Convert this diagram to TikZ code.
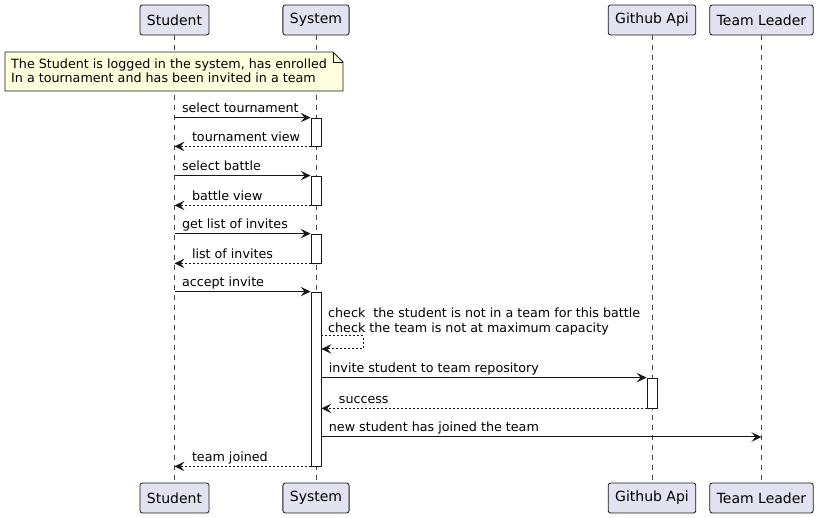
\documentclass[tikz,border=0pt]{standalone}
\usepackage{fontspec}
\setmainfont{DejaVu Sans}
\usetikzlibrary{arrows.meta}

\definecolor{partfill}{HTML}{E2E2F0}
\definecolor{notefill}{HTML}{FEFFDD}
\definecolor{umlline}{HTML}{181818}

\tikzset{
  part/.style={draw=umlline, fill=partfill, rounded corners=2.5pt, line width=0.8pt,
    minimum height=30pt, inner xsep=7pt, font=\fontsize{14}{16}\selectfont},
  life/.style={draw=umlline!80, line width=0.7pt, dash pattern=on 5pt off 5pt},
  actbar/.style={draw=umlline, fill=white, line width=0.8pt, minimum width=10pt, inner sep=0pt},
  msg/.style={draw=umlline, line width=1pt, -{Stealth[length=10pt,width=9.5pt,inset=4pt]}},
  ret/.style={msg, dash pattern=on 2pt off 2pt},
  lbl/.style={anchor=base west, inner sep=0pt, font=\fontsize{12.7}{14.5}\selectfont},
}

\begin{document}
\begin{tikzpicture}[x=1pt, y=-1pt]
			\useasboundingbox (0,0) rectangle (820,518);
			% participants
			\node[part] (st) at (174.5,20) {Student};
			\node[part] (sy) at (316,20) {System};
			\node[part] (gh) at (652,20) {Github Api};
			\node[part] (tl) at (761.5,20) {Team Leader};
			\node[part] (st2) at (174.5,498) {Student};
			\node[part] (sy2) at (316,498) {System};
			\node[part] (gh2) at (652,498) {Github Api};
			\node[part] (tl2) at (761.5,498) {Team Leader};
			\draw[life] (st.south) -- (st2.north);
			\draw[life] (sy.south) -- (sy2.north);
			\draw[life] (gh.south) -- (gh2.north);
			\draw[life] (tl.south) -- (tl2.north);
			% note
			\draw[umlline, fill=notefill, line width=0.8pt] (5,52) -- (333,52) -- (343,62) -- (343,91) -- (5,91) -- cycle;
			\draw[umlline, line width=0.8pt] (333,52) -- (333,62) -- (343,62);
			\node[lbl, anchor=north west, align=left] (note) at (11,58.5) {The Student is logged in the system, has enrolled\\In a tournament and has been invited in a team};
			% activations
			\node[actbar, minimum height=28pt] (a1) at (316,132) {};
			\node[actbar, minimum height=29pt] (a2) at (316,190.5) {};
			\node[actbar, minimum height=29pt] (a3) at (316,248.5) {};
			\node[actbar, minimum height=174pt] (a4) at (316,379) {};
			\node[actbar, minimum height=30pt] (a5) at (652,393) {};
			% messages
			\draw[msg] (st |- a1.north) -- (a1.north west) node[lbl, pos=0, xshift=7pt, yshift=5pt] {select tournament};
			\draw[ret] (a1.south west) -- (st |- a1.south) node[lbl, pos=1, xshift=17pt, yshift=5pt] {tournament view};
			\draw[msg] (st |- a2.north) -- (a2.north west) node[lbl, pos=0, xshift=7pt, yshift=5pt] {select battle};
			\draw[ret] (a2.south west) -- (st |- a2.south) node[lbl, pos=1, xshift=17pt, yshift=5pt] {battle view};
			\draw[msg] (st |- a3.north) -- (a3.north west) node[lbl, pos=0, xshift=7pt, yshift=5pt] {get list of invites};
			\draw[ret] (a3.south west) -- (st |- a3.south) node[lbl, pos=1, xshift=17pt, yshift=5pt] {list of invites};
			\draw[msg] (st |- a4.north) -- (a4.north west) node[lbl, pos=0, xshift=7pt, yshift=5pt] {accept invite};
			\draw[ret] (a4.east |- 0,336) -- ++(42,0) -- ++(0,13) -- (a4.east |- 0,349);
			\node[lbl, anchor=south west, align=left] (chk) at (328,335) {check\ \ the student is not in a team for this battle\\check the team is not at maximum capacity};
			\draw[msg] (a4.east |- a5.north) -- (a5.north west) node[lbl, pos=0, xshift=7pt, yshift=5pt] {invite student to team repository};
			\draw[ret] (a5.south west) -- (a4.east |- a5.south) node[lbl, pos=1, xshift=17pt, yshift=5pt] {success};
			\draw[msg] (a4.east |- 0,437) -- (tl |- 0,437) node[lbl, pos=0, xshift=7pt, yshift=5pt] {new student has joined the team};
			\draw[ret] (a4.south west) -- (st |- a4.south) node[lbl, pos=1, xshift=17pt, yshift=5pt] {team joined};
		\end{tikzpicture}
\end{document}
